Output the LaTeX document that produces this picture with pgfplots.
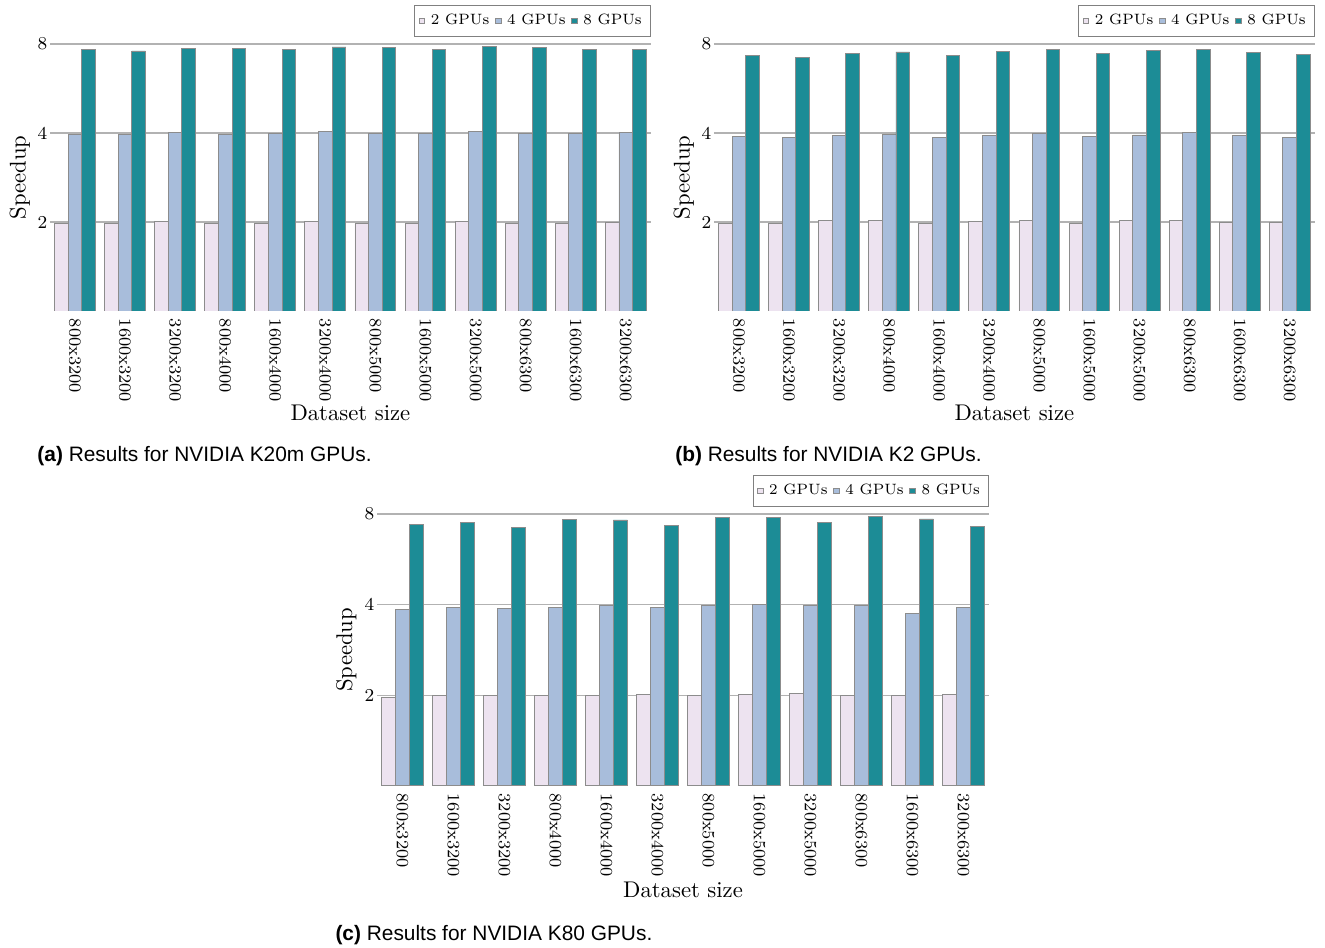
\documentclass[border=0pt]{standalone}
\usepackage{pgfplots}
\pgfplotsset{compat=1.18}
\usepackage{fontspec}
\newfontfamily\capfont{Liberation Sans}
\definecolor{cA}{HTML}{EDE3F0}
\definecolor{cB}{HTML}{A8BDDB}
\definecolor{cC}{HTML}{1C8C96}
\begin{document}
\begin{tikzpicture}
\path[use as bounding box] (0pt,0pt) rectangle (583.7pt,-417.6pt);
% (a)
\begin{axis}[at={(22.0pt,-137.0pt)}, anchor=south west, width=264.7pt, height=117.6pt,
  scale only axis,
  ybar=0pt, bar width=0.272,
  ymode=log, log basis y=2, ymin=1, ymax=8, ytick={2,4,8}, yticklabels={2,4,8},
  xmin=-0.5, xmax=11.5, xtick={0,...,11},
  xticklabels={800x3200,1600x3200,3200x3200,800x4000,1600x4000,3200x4000,800x5000,1600x5000,3200x5000,800x6300,1600x6300,3200x6300},
  x tick label style={rotate=-90, anchor=west, font=\fontsize{7.6}{9}\selectfont, inner sep=0pt},
  xticklabel shift=-1pt,
  y tick label style={font=\footnotesize, inner sep=1pt},
  axis line style={draw=none},
  major tick style={draw=none},
  ymajorgrids, grid style={black!30, line width=0.6pt},
  xlabel={Dataset size}, ylabel={Speedup},
  xlabel style={at={(axis description cs:0.5,-0.382)}, anchor=center},
  ylabel style={at={(axis description cs:-0.05,0.5)}, anchor=center},
  legend columns=3,
  legend style={at={(1,1)}, anchor=south east, yshift=3pt, font=\fontsize{6.6}{8}\selectfont, draw=black!50, inner sep=1.8pt, column sep=0.5pt},
  legend image code/.code={\draw[#1, draw=black!45] (0pt,-1.2pt) rectangle (2.4pt,1.2pt);}]
\addplot[fill=cA, draw=black!45] coordinates {(0,1.98)(1,1.98)(2,2.01)(3,1.98)(4,1.98)(5,2.01)(6,1.98)(7,1.98)(8,2.01)(9,1.98)(10,1.98)(11,1.99)};
\addplot[fill=cB, draw=black!45] coordinates {(0,3.95)(1,3.95)(2,4.01)(3,3.95)(4,3.98)(5,4.04)(6,3.98)(7,3.98)(8,4.06)(9,3.98)(10,3.98)(11,4.01)};
\addplot[fill=cC, draw=black!45] coordinates {(0,7.69)(1,7.58)(2,7.75)(3,7.73)(4,7.67)(5,7.82)(6,7.77)(7,7.69)(8,7.88)(9,7.80)(10,7.69)(11,7.67)};
\legend{2 GPUs,4 GPUs,8 GPUs}
\end{axis}
% (b)
\begin{axis}[at={(314.5pt,-137.0pt)}, anchor=south west, width=264.7pt, height=117.6pt,
  scale only axis,
  ybar=0pt, bar width=0.272,
  ymode=log, log basis y=2, ymin=1, ymax=8, ytick={2,4,8}, yticklabels={2,4,8},
  xmin=-0.5, xmax=11.5, xtick={0,...,11},
  xticklabels={800x3200,1600x3200,3200x3200,800x4000,1600x4000,3200x4000,800x5000,1600x5000,3200x5000,800x6300,1600x6300,3200x6300},
  x tick label style={rotate=-90, anchor=west, font=\fontsize{7.6}{9}\selectfont, inner sep=0pt},
  xticklabel shift=-1pt,
  y tick label style={font=\footnotesize, inner sep=1pt},
  axis line style={draw=none},
  major tick style={draw=none},
  ymajorgrids, grid style={black!30, line width=0.6pt},
  xlabel={Dataset size}, ylabel={Speedup},
  xlabel style={at={(axis description cs:0.5,-0.382)}, anchor=center},
  ylabel style={at={(axis description cs:-0.05,0.5)}, anchor=center},
  legend columns=3,
  legend style={at={(1,1)}, anchor=south east, yshift=3pt, font=\fontsize{6.6}{8}\selectfont, draw=black!50, inner sep=1.8pt, column sep=0.5pt},
  legend image code/.code={\draw[#1, draw=black!45] (0pt,-1.2pt) rectangle (2.4pt,1.2pt);}]
\addplot[fill=cA, draw=black!45] coordinates {(0,1.98)(1,1.98)(2,2.02)(3,2.02)(4,1.98)(5,2.01)(6,2.02)(7,1.98)(8,2.02)(9,2.02)(10,2.00)(11,2.00)};
\addplot[fill=cB, draw=black!45] coordinates {(0,3.89)(1,3.85)(2,3.92)(3,3.95)(4,3.87)(5,3.92)(6,3.98)(7,3.89)(8,3.94)(9,4.01)(10,3.93)(11,3.87)};
\addplot[fill=cC, draw=black!45] coordinates {(0,7.34)(1,7.23)(2,7.46)(3,7.52)(4,7.34)(5,7.54)(6,7.65)(7,7.46)(8,7.61)(9,7.69)(10,7.50)(11,7.36)};
\legend{2 GPUs,4 GPUs,8 GPUs}
\end{axis}
% (c)
\begin{axis}[at={(166.1pt,-346.2pt)}, anchor=south west, width=269.6pt, height=119.8pt,
  scale only axis,
  ybar=0pt, bar width=0.272,
  ymode=log, log basis y=2, ymin=1, ymax=8, ytick={2,4,8}, yticklabels={2,4,8},
  xmin=-0.5, xmax=11.5, xtick={0,...,11},
  xticklabels={800x3200,1600x3200,3200x3200,800x4000,1600x4000,3200x4000,800x5000,1600x5000,3200x5000,800x6300,1600x6300,3200x6300},
  x tick label style={rotate=-90, anchor=west, font=\fontsize{7.6}{9}\selectfont, inner sep=0pt},
  xticklabel shift=-1pt,
  y tick label style={font=\footnotesize, inner sep=1pt},
  axis line style={draw=none},
  major tick style={draw=none},
  ymajorgrids, grid style={black!30, line width=0.6pt},
  xlabel={Dataset size}, ylabel={Speedup},
  xlabel style={at={(axis description cs:0.5,-0.382)}, anchor=center},
  ylabel style={at={(axis description cs:-0.05,0.5)}, anchor=center},
  legend columns=3,
  legend style={at={(1,1)}, anchor=south east, yshift=3pt, font=\fontsize{6.6}{8}\selectfont, draw=black!50, inner sep=1.8pt, column sep=0.5pt},
  legend image code/.code={\draw[#1, draw=black!45] (0pt,-1.2pt) rectangle (2.4pt,1.2pt);}]
\addplot[fill=cA, draw=black!45] coordinates {(0,1.97)(1,1.99)(2,2.00)(3,1.99)(4,1.99)(5,2.01)(6,2.00)(7,2.01)(8,2.03)(9,1.99)(10,2.00)(11,2.01)};
\addplot[fill=cB, draw=black!45] coordinates {(0,3.84)(1,3.90)(2,3.89)(3,3.92)(4,3.96)(5,3.92)(6,3.97)(7,3.99)(8,3.97)(9,3.96)(10,3.74)(11,3.91)};
\addplot[fill=cC, draw=black!45] coordinates {(0,7.39)(1,7.49)(2,7.22)(3,7.66)(4,7.64)(5,7.32)(6,7.80)(7,7.80)(8,7.49)(9,7.84)(10,7.70)(11,7.28)};
\legend{2 GPUs,4 GPUs,8 GPUs}
\end{axis}
\node[anchor=base west, font=\capfont\fontsize{9.2}{11}\selectfont, inner sep=0pt] at (16.3pt,-203.5pt) {\textbf{(a)} Results for NVIDIA K20m GPUs.};
\node[anchor=base west, font=\capfont\fontsize{9.2}{11}\selectfont, inner sep=0pt] at (297.3pt,-203.5pt) {\textbf{(b)} Results for NVIDIA K2 GPUs.};
\node[anchor=base west, font=\capfont\fontsize{9.2}{11}\selectfont, inner sep=0pt] at (147.6pt,-414.1pt) {\textbf{(c)} Results for NVIDIA K80 GPUs.};
\end{tikzpicture}
\end{document}
